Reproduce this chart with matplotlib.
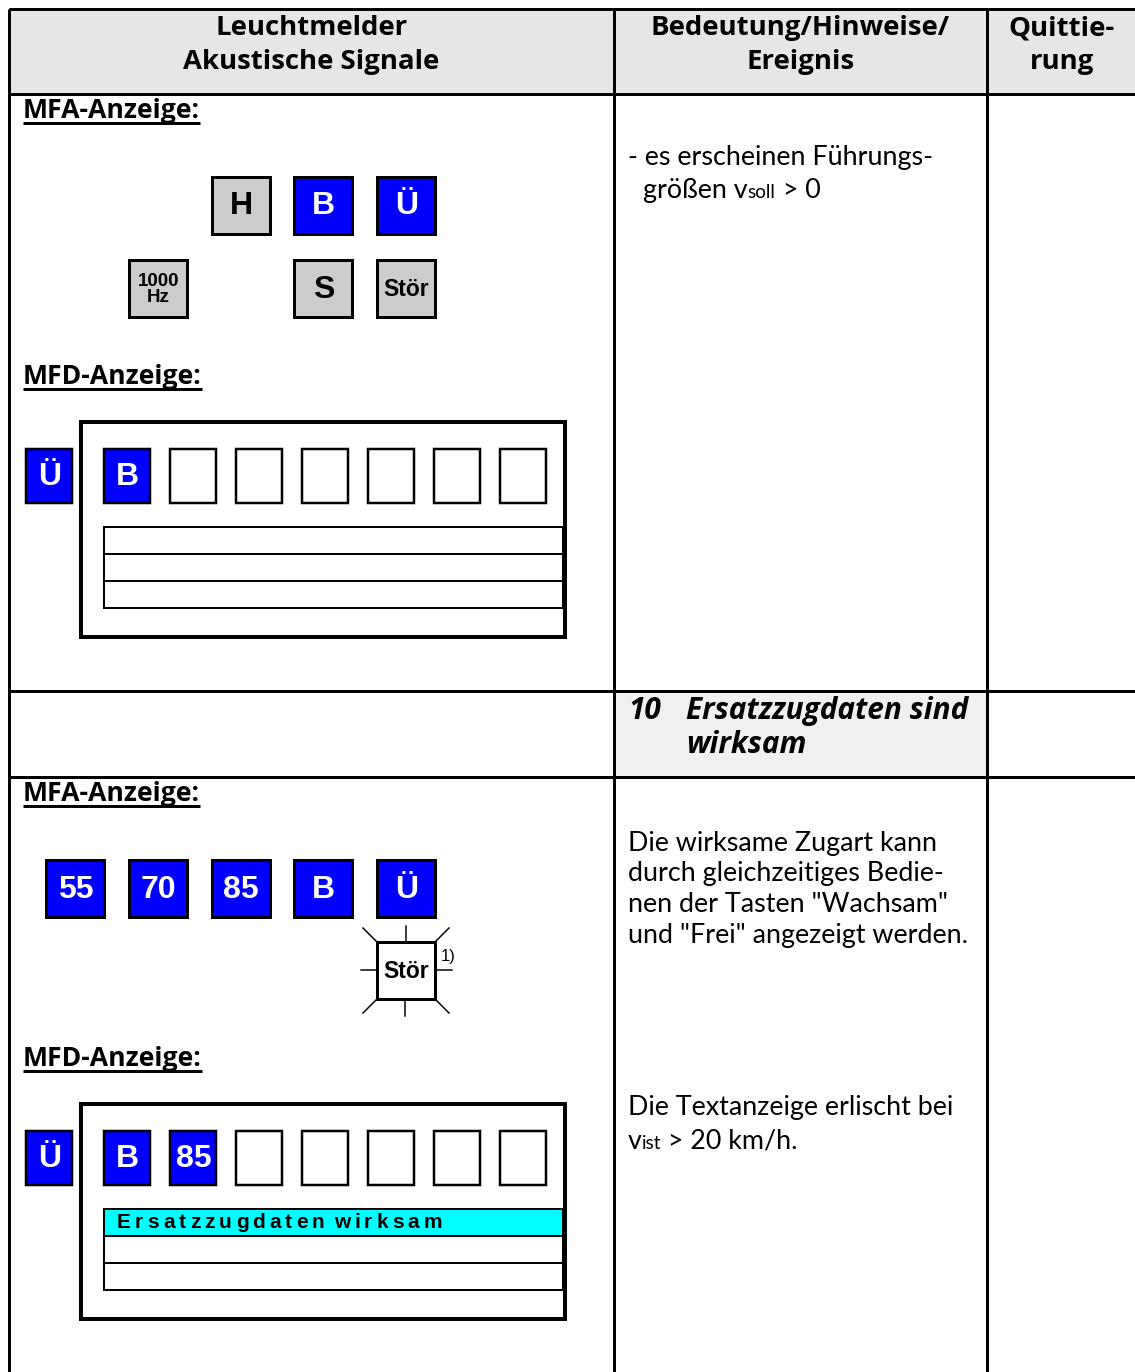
import matplotlib
matplotlib.use("Agg")
import matplotlib.pyplot as plt
from matplotlib.patches import Rectangle
from matplotlib.font_manager import FontProperties, findfont
from matplotlib.ft2font import FT2Font

# table layout data
col_edges = [9, 614, 987, 1135]
row_edges = [9, 94, 691, 777, 1372]
header_lines = [["Leuchtmelder", "Akustische Signale"],
                ["Bedeutung/Hinweise/", "Ereignis"],
                ["Quittie-", "rung"]]

# MFA panel 1
mfa1_labels = ["H", "B", "Ü", "1000\nHz", "S", "Stör"]
mfa1_colors = ["gray", "blue", "blue", "gray", "gray", "gray"]
# MFA panel 2
mfa2_labels = ["55", "70", "85", "B", "Ü"]
# MFD top row
mfd1_labels = ["B", "", "", "", "", "", ""]
mfd2_labels = ["B", "85", "", "", "", "", ""]
mfd2_text = "Ersatzzugdaten wirksam"

section_no = "10"
section_title = ["Ersatzzugdaten sind", "wirksam"]
note1 = "- es erscheinen Führungs-"
note3a = ["Die wirksame Zugart kann", "durch gleichzeitiges Bedie-",
          "nen der Tasten \"Wachsam\"", "und \"Frei\" angezeigt werden."]
note3b = "Die Textanzeige erlischt bei"

BLUE = "#0000ff"
GRAY = "#cccccc"
BODY = "Lato"
HEAD = "Open Sans"
BTN = "Liberation Sans"

W, H = 1135, 1372
fig = plt.figure(figsize=(W / 100, H / 100), dpi=100)
ax = fig.add_axes([0, 0, 1, 1])
ax.set_xlim(0, W)
ax.set_ylim(H, 0)
ax.axis("off")
renderer = fig.canvas.get_renderer()


def px(v):
    return v * 0.72


def fit_size(s, target, **kw):
    t = ax.text(0, 0, s, fontsize=10, **kw)
    w = t.get_window_extent(renderer).width
    t.remove()
    return 10 * target / w


HEAD_KW = dict(family=HEAD, fontweight="bold")
SEC_KW = dict(family=HEAD, fontweight="bold", style="italic")
BODY_KW = dict(family=BODY)
head_size = fit_size("Leuchtmelder", 192, **HEAD_KW)
label_size = fit_size("MFA-Anzeige:", 177, **HEAD_KW)
sec_size = fit_size("Ersatzzugdaten sind", 283, **SEC_KW)
body_size = fit_size("Die wirksame Zugart kann", 309, **BODY_KW)


def box(x, y, w, h, fill, label="", size=22, color="k", lw=3, family=BTN):
    ax.add_patch(Rectangle((x, y), w, h, facecolor=fill, edgecolor="k", lw=px(lw)))
    if label:
        ax.text(x + w / 2 + 0.5, y + h / 2 + 1, label, ha="center", va="center",
                fontsize=size, color=color, fontweight="bold", family=family,
                linespacing=0.95)


def text_run(x, y, parts):
    for s, size in parts:
        t = ax.text(x, y, s, fontsize=size, va="baseline", **BODY_KW)
        x += t.get_window_extent(renderer).width


def heading(x, y, s):
    t = ax.text(x, y, s, fontsize=label_size, va="baseline", **HEAD_KW)
    w = t.get_window_extent(renderer).width
    ax.plot([x, x + w], [y + 4.5, y + 4.5], color="k", lw=px(3), solid_capstyle="butt")


def spaced_text(x, y, s, size, extra, space=5):
    fp = FontProperties(family=BTN, weight="bold", size=size)
    font = FT2Font(findfont(fp))
    font.set_size(size, 100)
    for c in s:
        if c == " ":
            x += space
            continue
        ax.text(x, y, c, fontproperties=fp, va="center", ha="left")
        x += font.load_char(ord(c)).linearHoriAdvance / 65536 + extra


# header fill and section fill
ax.add_patch(Rectangle((col_edges[0], row_edges[0]), W - col_edges[0],
                       row_edges[1] - row_edges[0], facecolor="#e6e6e6", lw=0))
ax.add_patch(Rectangle((col_edges[1], row_edges[2]), col_edges[2] - col_edges[1],
                       row_edges[3] - row_edges[2], facecolor="#f0f0f0", lw=0))

# grid lines
for yy in row_edges[:4]:
    ax.plot([col_edges[0], W], [yy, yy], color="k", lw=px(3), solid_capstyle="butt")
for xx in col_edges[:3]:
    ax.plot([xx, xx], [row_edges[0], H], color="k", lw=px(3), solid_capstyle="butt")

# header texts
for i, lines in enumerate(header_lines):
    cx = (col_edges[i] + col_edges[i + 1]) / 2
    if i == 2:
        cx = 1062
    for j, s in enumerate(lines):
        ax.text(cx, 28 + 34 * j, s, ha="center", va="center", fontsize=head_size, **HEAD_KW)

# ---- row 1 ----
heading(23, 118, "MFA-Anzeige:")
b1x = [212, 294, 377, 129, 294, 377]
b1y = [177, 177, 177, 260, 260, 260]
for lab, c, bx, by in zip(mfa1_labels, mfa1_colors, b1x, b1y):
    if c == "blue":
        box(bx, by, 58, 57, BLUE, lab, 23, "white")
    else:
        sz = 23 if len(lab) == 1 else (16.5 if lab == "Stör" else 13.5)
        box(bx, by, 58, 57, GRAY, lab, sz, "k")

heading(23, 384, "MFD-Anzeige:")


def mfd(top, labels, line_text=None):
    ax.add_patch(Rectangle((81, top), 484, 215, facecolor="white", edgecolor="k", lw=px(4)))
    box(26, top + 27, 46, 54, BLUE, "Ü", 23, "white", lw=2.5)
    for i, lab in enumerate(labels):
        fill = BLUE if lab else "white"
        fam = BTN if len(lab) < 2 else ["Liberation Sans Narrow", BTN]
        box(104 + 66 * i, top + 27, 46, 54, fill, lab, 23, "white", lw=2.5, family=fam)
    y0 = top + 105
    for k in range(3):
        fc = "#00ffff" if (line_text and k == 0) else "white"
        ax.add_patch(Rectangle((104, y0 + 27 * k), 459, 27, facecolor=fc,
                               edgecolor="k", lw=px(2)))
    if line_text:
        spaced_text(117, y0 + 14, line_text, 15, 4.1)


mfd(422, mfd1_labels)

# row 1 notes
ax.text(628, 157, note1, fontsize=body_size, va="center", **BODY_KW)
text_run(643, 198, [("größen v", body_size), ("soll", body_size * 0.7), (" > 0", body_size)])

# ---- row 2 section header ----
ax.text(628, 711, section_no, fontsize=sec_size, va="center", **SEC_KW)
for j, s in enumerate(section_title):
    ax.text(686, 711 + 34 * j, s, fontsize=sec_size, va="center", **SEC_KW)

# ---- row 3 ----
heading(23, 801, "MFA-Anzeige:")
for i, lab in enumerate(mfa2_labels):
    box(46 + 82.75 * i, 860, 58, 57, BLUE, lab, 23, "white")

# flashing Stör lamp
sx, sy, sw = 377, 942, 58
box(sx, sy, sw, 57, "white", "Stör", 16.5, "k")
rays = [((sx + 29, sy - 16), (sx + 29, sy)), ((sx - 16, sy + 28), (sx, sy + 28)),
        ((sx + sw, sy + 28), (sx + sw + 17, sy + 28)), ((sx + 28, sy + 57), (sx + 28, sy + 74)),
        ((sx - 14, sy - 14), (sx, sy)), ((sx + sw, sy), (sx + sw + 14, sy - 14)),
        ((sx, sy + 57), (sx - 14, sy + 71)), ((sx + sw, sy + 57), (sx + sw + 14, sy + 71))]
for (xa, ya), (xb, yb) in rays:
    ax.plot([xa, xb], [ya, yb], color="k", lw=px(1.5))
ax.text(441, 957, "1)", fontsize=12, family=BTN, va="center")

heading(23, 1066, "MFD-Anzeige:")
mfd(1104, mfd2_labels, mfd2_text)

# row 3 notes
for j, s in enumerate(note3a):
    ax.text(628, 843 + 31 * j, s, fontsize=body_size, va="center", **BODY_KW)
ax.text(628, 1108, note3b, fontsize=body_size, va="center", **BODY_KW)
text_run(628, 1149, [("v", body_size), ("ist", body_size * 0.7), (" > 20 km/h.", body_size)])

fig.savefig("out.png", dpi=100)
